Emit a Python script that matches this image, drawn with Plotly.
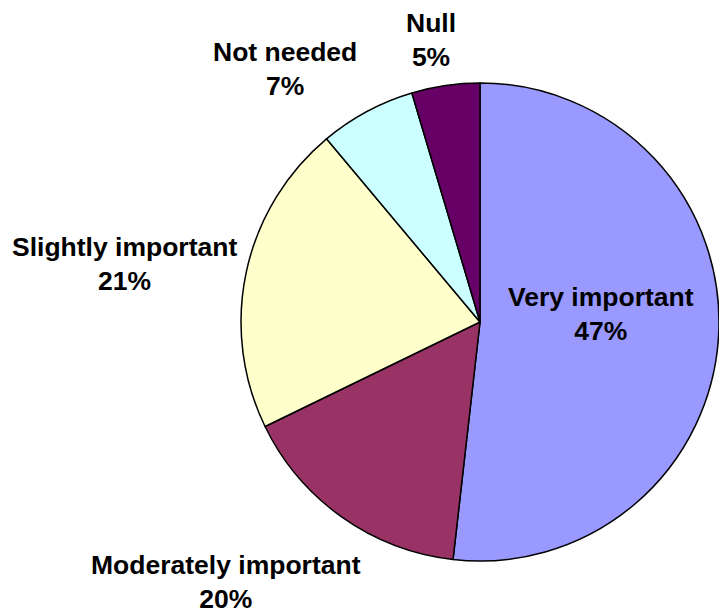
import plotly.graph_objects as go

# Categories in drawing order (clockwise from 12 o'clock)
categories = ["Very important", "Moderately important", "Slightly important", "Not needed", "Null"]
# Slice shares as drawn in the picture
slice_shares = [51.8, 16.0, 21.1, 6.5, 4.6]
# Percent labels as printed on the chart
pct_labels = ["47%", "20%", "21%", "7%", "5%"]
colors = ["#9999FF", "#993366", "#FFFFCC", "#CCFFFF", "#660066"]

W, H = 719, 613

fig = go.Figure(go.Pie(
    labels=categories,
    values=slice_shares,
    sort=False,
    direction="clockwise",
    rotation=0,
    textinfo="none",
    hoverinfo="label+percent",
    marker=dict(colors=colors, line=dict(color="#000000", width=1.5)),
    domain=dict(x=[241 / W, 1.0], y=[(H - 561) / H, (H - 83) / H]),
    showlegend=False,
))

# label centre positions (pixels) for each category's text block
label_px = [(601, 314), (226, 582), (124, 264), (285, 69), (431, 40)]
for cat, pct, (px, py) in zip(categories, pct_labels, label_px):
    fig.add_annotation(
        x=px / W, y=1 - py / H, xref="paper", yref="paper",
        text=f"<b>{cat}</b><br><b>{pct}</b>",
        showarrow=False, xanchor="center", yanchor="middle", align="center",
        font=dict(family="Arial, Liberation Sans, sans-serif", size=26.5, color="#000000"),
    )

fig.update_layout(
    width=W, height=H,
    margin=dict(l=0, r=0, t=0, b=0),
    paper_bgcolor="#FFFFFF", plot_bgcolor="#FFFFFF",
)

fig.write_html(
    "out.html",
    config={"displayModeBar": False},
    post_script="document.body.style.margin='0';document.body.style.overflow='hidden';",
)
